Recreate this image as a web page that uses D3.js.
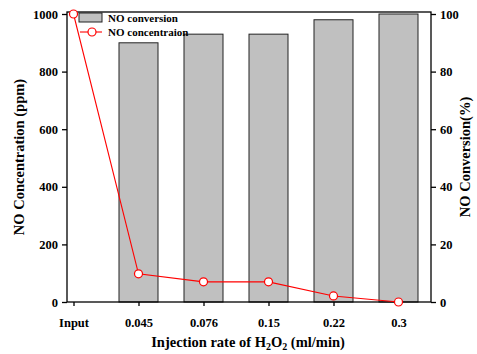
<!DOCTYPE html>
<html>
<head>
<meta charset="utf-8">
<script src="https://cdn.jsdelivr.net/npm/d3@7"></script>
<style>
  body { margin: 0; background: #fff; }
  text { font-family: "Liberation Serif", "Times New Roman", serif; font-weight: bold; }
</style>
</head>
<body>
<div class="chart"></div>
<script>
const categories = ["Input", "0.045", "0.076", "0.15", "0.22", "0.3"];
const conversion = [null, 90, 93, 93, 98, 100];        // %
const concentration = [1000, 98, 70, 70, 21, 0];        // ppm
const leftTicks = [0, 200, 400, 600, 800, 1000];
const rightTicks = [0, 20, 40, 60, 80, 100];

const W = 477, H = 354;
const plotL = 67, plotR = 431, plotT = 12, plotB = 302;

const svg = d3.select(".chart").append("svg")
  .attr("width", W)
  .attr("height", H);

const x = d3.scaleLinear().domain([-0.1, 5.5]).range([plotL, plotR]);
const yL = d3.scaleLinear().domain([0, 1000]).range([plotB, 14]);
const yR = d3.scaleLinear().domain([0, 100]).range([plotB, 14]);
const barW = 39;

// bars
svg.append("g").selectAll("rect")
  .data(conversion.map((v, i) => ({v, i})).filter(d => d.v != null))
  .enter().append("rect")
  .attr("x", d => x(d.i) - barW / 2)
  .attr("width", barW)
  .attr("y", d => yR(d.v))
  .attr("height", d => plotB - yR(d.v))
  .attr("fill", "#c0c0c0")
  .attr("stroke", "#222")
  .attr("stroke-width", 1);

// frame
svg.append("rect")
  .attr("x", plotL).attr("y", plotT)
  .attr("width", plotR - plotL).attr("height", plotB - plotT)
  .attr("fill", "none").attr("stroke", "black").attr("stroke-width", 1.3);

// axes
const styleAxis = g => {
  g.select(".domain").remove();
  g.selectAll(".tick line").attr("stroke", "black").attr("stroke-width", 1.3);
  g.selectAll(".tick text").attr("font-size", 12.5).attr("fill", "black")
    .style("font-family", "'Liberation Serif'").style("font-weight", "bold");
};

svg.append("g")
  .attr("transform", `translate(${plotL},0)`)
  .call(d3.axisLeft(yL).tickValues(leftTicks).tickFormat(d3.format("d")).tickSize(5).tickPadding(4))
  .call(styleAxis);

svg.append("g")
  .attr("transform", `translate(${plotR},0)`)
  .call(d3.axisRight(yR).tickValues(rightTicks).tickFormat(d3.format("d")).tickSize(5).tickPadding(4))
  .call(styleAxis);

svg.append("g")
  .attr("transform", `translate(0,${plotB})`)
  .call(d3.axisBottom(x).tickValues(d3.range(categories.length))
    .tickFormat(i => categories[i]).tickSize(4).tickPadding(12))
  .call(styleAxis);

// line
const line = d3.line()
  .x((d, i) => x(i))
  .y(d => yL(d));

svg.append("path")
  .datum(concentration)
  .attr("fill", "none")
  .attr("stroke", "red")
  .attr("stroke-width", 1.1)
  .attr("d", line);

svg.append("g").selectAll("circle")
  .data(concentration)
  .enter().append("circle")
  .attr("cx", (d, i) => x(i))
  .attr("cy", d => yL(d))
  .attr("r", 4)
  .attr("fill", "white")
  .attr("stroke", "red")
  .attr("stroke-width", 1.2);

// legend
const lg = svg.append("g");
lg.append("rect")
  .attr("x", 79).attr("y", 13).attr("width", 23).attr("height", 9)
  .attr("fill", "#c0c0c0").attr("stroke", "#222");
lg.append("text").attr("x", 108).attr("y", 21.5)
  .attr("font-size", 11).text("NO conversion");
lg.append("line").attr("x1", 80).attr("x2", 102).attr("y1", 32).attr("y2", 32)
  .attr("stroke", "red").attr("stroke-width", 1.1);
lg.append("circle").attr("cx", 92).attr("cy", 32).attr("r", 4)
  .attr("fill", "white").attr("stroke", "red").attr("stroke-width", 1.2);
lg.append("text").attr("x", 108).attr("y", 36)
  .attr("font-size", 11).text("NO concentraion");

// axis titles
svg.append("text")
  .attr("transform", `translate(24,${(plotT + plotB) / 2}) rotate(-90)`)
  .attr("text-anchor", "middle")
  .attr("font-size", 14.5)
  .text("NO Concentration (ppm)");

svg.append("text")
  .attr("transform", `translate(470,${(plotT + plotB) / 2}) rotate(-90)`)
  .attr("text-anchor", "middle")
  .attr("font-size", 14.5)
  .text("NO Conversion(%)");

const xt = svg.append("text")
  .attr("x", 248).attr("y", 347)
  .attr("text-anchor", "middle")
  .attr("font-size", 14.5);
xt.append("tspan").text("Injection rate of H");
xt.append("tspan").attr("font-size", 10).attr("dy", 3).text("2");
xt.append("tspan").attr("dy", -3).text("O");
xt.append("tspan").attr("font-size", 10).attr("dy", 3).text("2");
xt.append("tspan").attr("dy", -3).text(" (ml/min)");
</script>
</body>
</html>
